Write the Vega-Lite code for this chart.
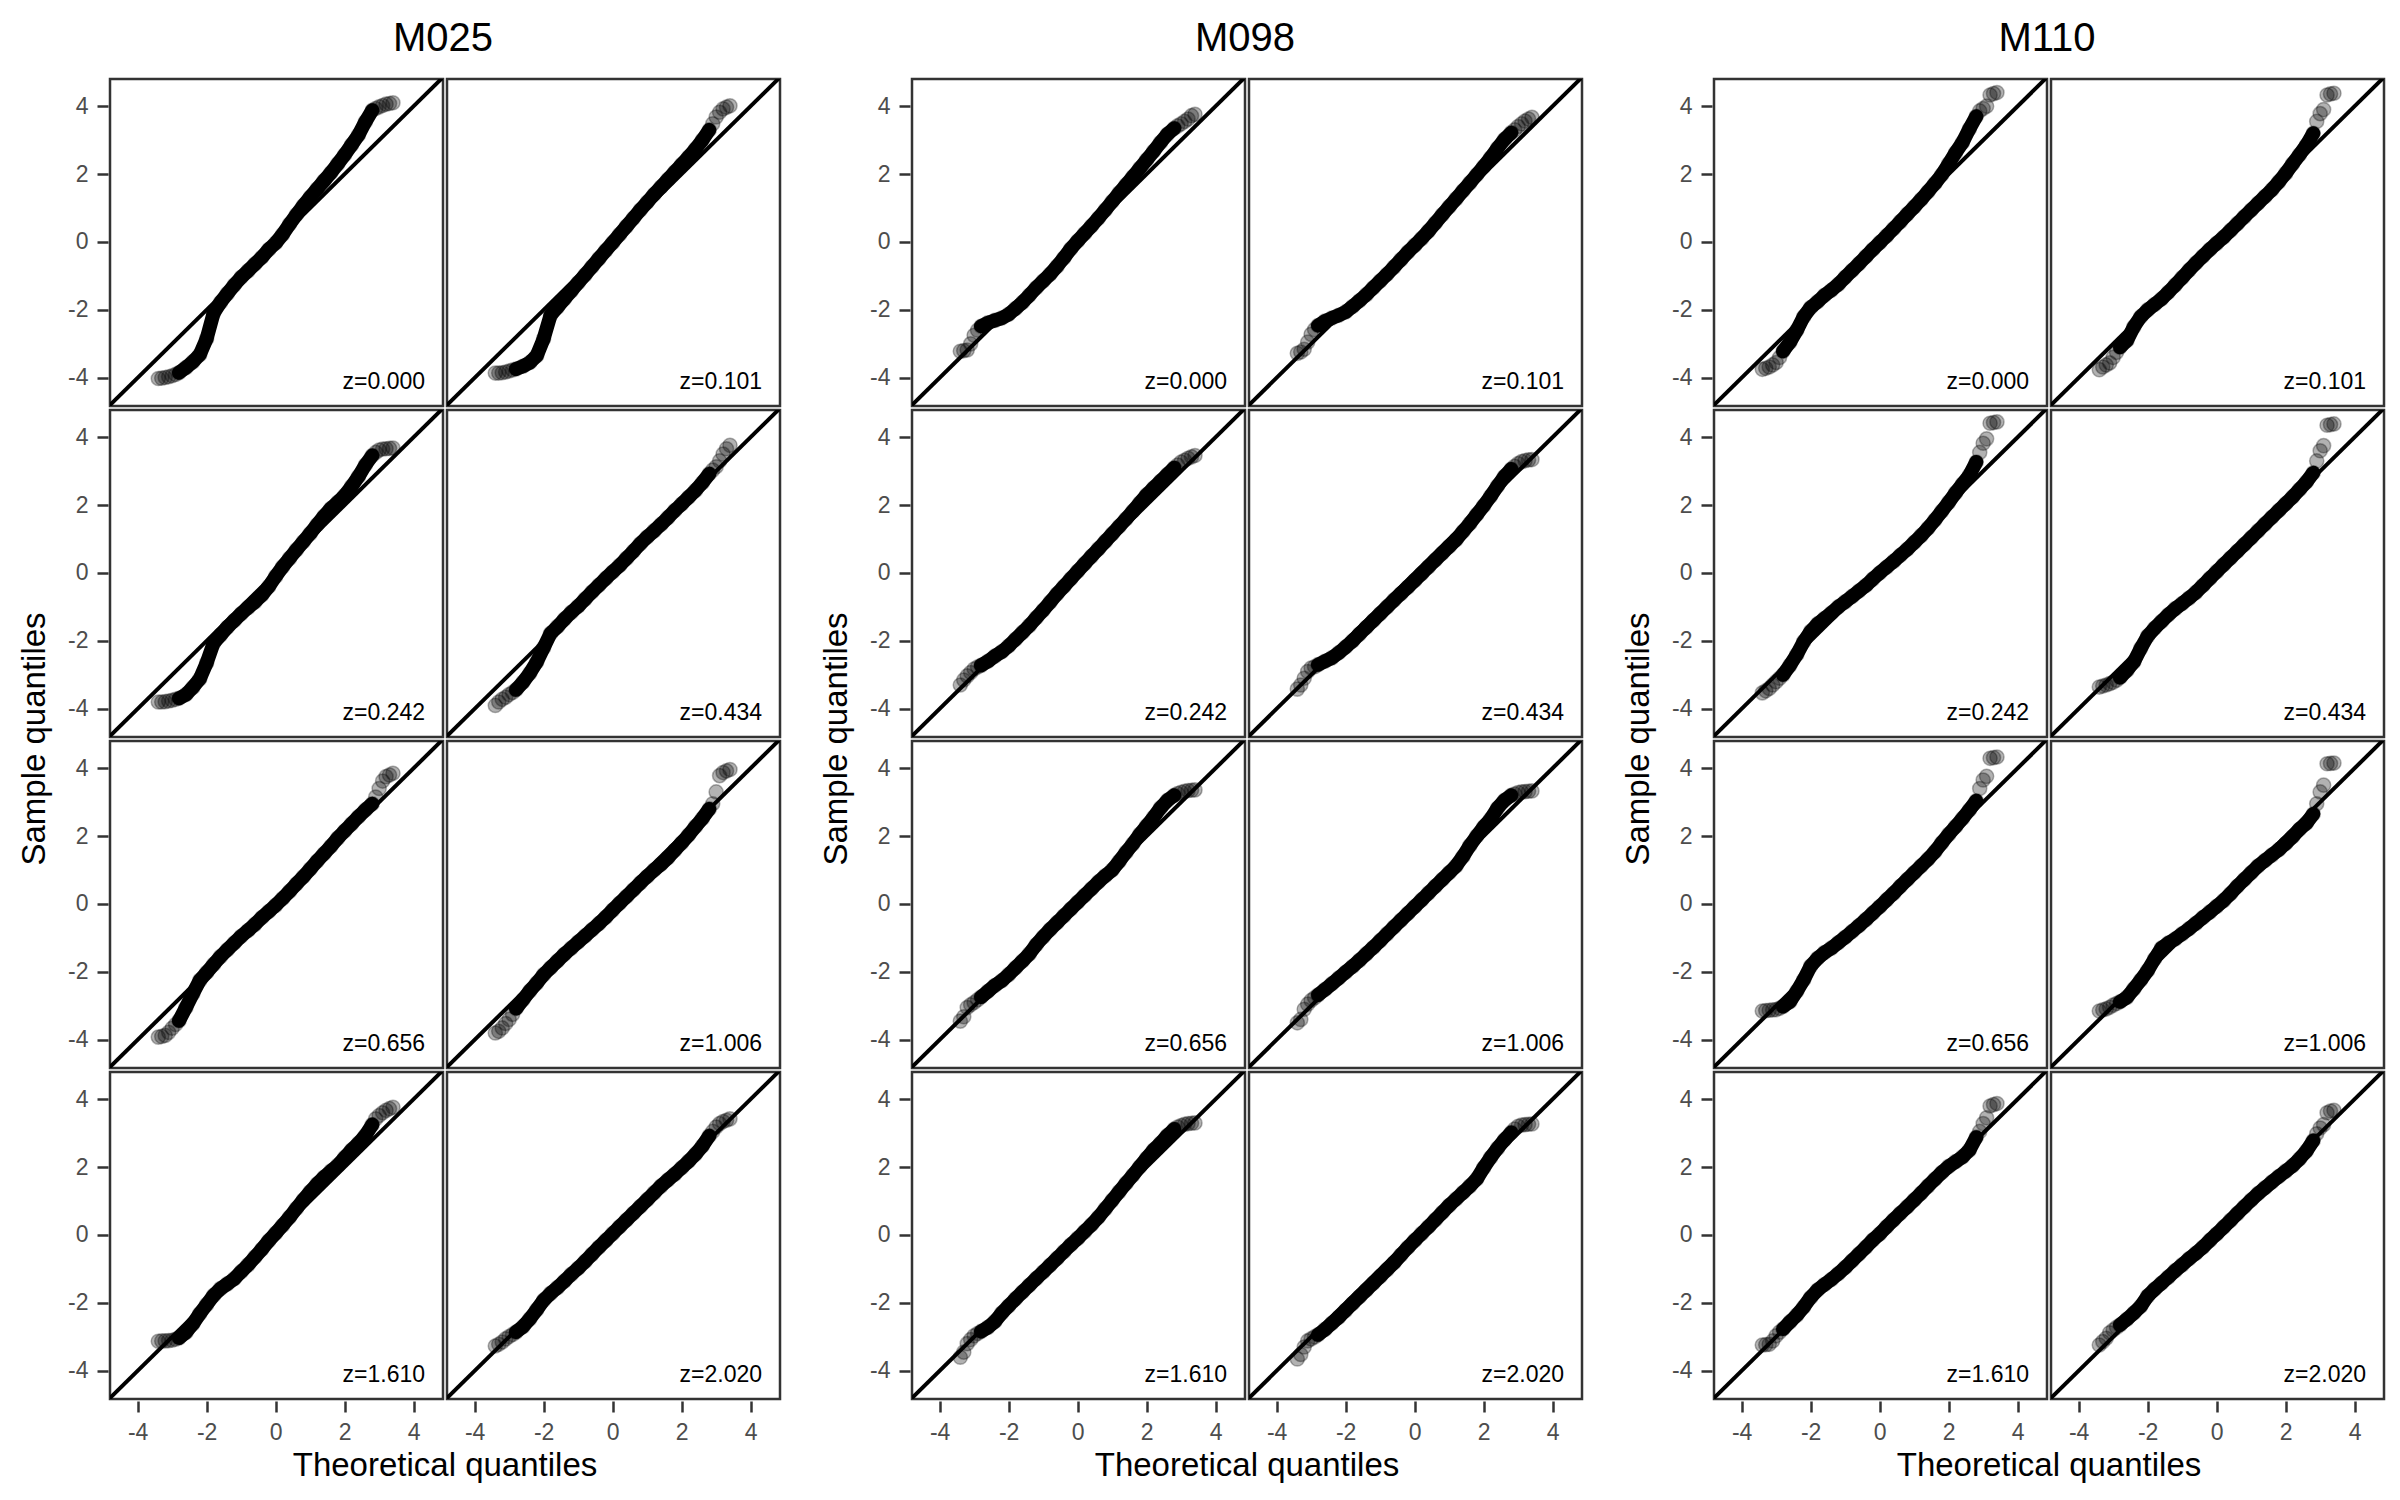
{
"$schema": "https://vega.github.io/schema/vega-lite/v6.json",
"background": "white",
"padding": {"left": 18, "top": 18, "right": 0, "bottom": 0},
"config": {
 "font": "Liberation Sans",
 "view": {"stroke": "#333333", "strokeWidth": 2.5},
 "axis": {"domain": false, "grid": false, "ticks": true, "tickColor": "#333333", "tickWidth": 2.5, "tickSize": 11, "labelFont": "Liberation Sans", "labelFontSize": 23, "labelColor": "#4d4d4d", "labelPadding": 9},
 "header": {"labels": false, "labelPadding": 0, "titleFont": "Liberation Sans", "titleFontSize": 33, "titleFontWeight": "normal", "titleColor": "black"},
 "title": {"font": "Liberation Sans", "fontSize": 40, "fontWeight": "normal", "color": "black"}
},
"datasets": {
 "xs": [{"key":"v0","x":-3.4},{"key":"v1","x":-3.3},{"key":"v2","x":-3.2},{"key":"v3","x":-3.1},{"key":"v4","x":-3.0},{"key":"v5","x":-2.9},{"key":"v6","x":-2.8},{"key":"v7","x":-2.6},{"key":"v8","x":-2.4},{"key":"v9","x":-2.2},{"key":"v10","x":-2.0},{"key":"v11","x":-1.8},{"key":"v12","x":-1.6},{"key":"v13","x":-1.4},{"key":"v14","x":-1.2},{"key":"v15","x":-1.0},{"key":"v16","x":-0.8},{"key":"v17","x":-0.6},{"key":"v18","x":-0.4},{"key":"v19","x":-0.2},{"key":"v20","x":0},{"key":"v21","x":0.2},{"key":"v22","x":0.4},{"key":"v23","x":0.6},{"key":"v24","x":0.8},{"key":"v25","x":1.0},{"key":"v26","x":1.2},{"key":"v27","x":1.4},{"key":"v28","x":1.6},{"key":"v29","x":1.8},{"key":"v30","x":2.0},{"key":"v31","x":2.2},{"key":"v32","x":2.4},{"key":"v33","x":2.6},{"key":"v34","x":2.8},{"key":"v35","x":2.9},{"key":"v36","x":3.0},{"key":"v37","x":3.1},{"key":"v38","x":3.2},{"key":"v39","x":3.3},{"key":"v40","x":3.4}],
 "panels": [
  {"g":"M025","r":1,"c":1,"z":"z=0.000","v0":-4.02,"v1":-4.01,"v2":-3.99,"v3":-3.97,"v4":-3.94,"v5":-3.9,"v6":-3.85,"v7":-3.7,"v8":-3.53,"v9":-3.32,"v10":-2.85,"v11":-2.1,"v12":-1.78,"v13":-1.52,"v14":-1.27,"v15":-1.04,"v16":-0.85,"v17":-0.65,"v18":-0.45,"v19":-0.22,"v20":-0.03,"v21":0.22,"v22":0.52,"v23":0.8,"v24":1.07,"v25":1.32,"v26":1.56,"v27":1.8,"v28":2.04,"v29":2.3,"v30":2.57,"v31":2.86,"v32":3.15,"v33":3.54,"v34":3.88,"v35":3.93,"v36":3.98,"v37":4.02,"v38":4.06,"v39":4.08,"v40":4.1},
  {"g":"M025","r":1,"c":2,"z":"z=0.101","v0":-3.86,"v1":-3.86,"v2":-3.85,"v3":-3.83,"v4":-3.8,"v5":-3.77,"v6":-3.74,"v7":-3.66,"v8":-3.55,"v9":-3.35,"v10":-2.85,"v11":-2.16,"v12":-1.92,"v13":-1.68,"v14":-1.44,"v15":-1.2,"v16":-0.97,"v17":-0.73,"v18":-0.49,"v19":-0.25,"v20":-0.02,"v21":0.22,"v22":0.46,"v23":0.7,"v24":0.94,"v25":1.17,"v26":1.4,"v27":1.62,"v28":1.84,"v29":2.06,"v30":2.28,"v31":2.5,"v32":2.74,"v33":3.0,"v34":3.3,"v35":3.48,"v36":3.68,"v37":3.82,"v38":3.92,"v39":3.97,"v40":4.01},
  {"g":"M025","r":2,"c":1,"z":"z=0.242","v0":-3.8,"v1":-3.8,"v2":-3.79,"v3":-3.77,"v4":-3.75,"v5":-3.72,"v6":-3.69,"v7":-3.58,"v8":-3.37,"v9":-3.12,"v10":-2.65,"v11":-2.07,"v12":-1.83,"v13":-1.6,"v14":-1.4,"v15":-1.2,"v16":-1.02,"v17":-0.85,"v18":-0.65,"v19":-0.4,"v20":-0.1,"v21":0.18,"v22":0.43,"v23":0.68,"v24":0.92,"v25":1.16,"v26":1.42,"v27":1.67,"v28":1.9,"v29":2.08,"v30":2.28,"v31":2.55,"v32":2.84,"v33":3.18,"v34":3.46,"v35":3.55,"v36":3.62,"v37":3.65,"v38":3.66,"v39":3.67,"v40":3.68},
  {"g":"M025","r":2,"c":2,"z":"z=0.434","v0":-3.9,"v1":-3.8,"v2":-3.72,"v3":-3.66,"v4":-3.58,"v5":-3.52,"v6":-3.44,"v7":-3.22,"v8":-2.95,"v9":-2.62,"v10":-2.2,"v11":-1.78,"v12":-1.58,"v13":-1.36,"v14":-1.16,"v15":-0.98,"v16":-0.77,"v17":-0.56,"v18":-0.36,"v19":-0.16,"v20":0.03,"v21":0.22,"v22":0.43,"v23":0.64,"v24":0.86,"v25":1.06,"v26":1.24,"v27":1.43,"v28":1.63,"v29":1.84,"v30":2.03,"v31":2.23,"v32":2.43,"v33":2.66,"v34":2.92,"v35":3.03,"v36":3.13,"v37":3.3,"v38":3.5,"v39":3.66,"v40":3.76},
  {"g":"M025","r":3,"c":1,"z":"z=0.656","v0":-3.92,"v1":-3.9,"v2":-3.87,"v3":-3.78,"v4":-3.66,"v5":-3.55,"v6":-3.44,"v7":-3.05,"v8":-2.64,"v9":-2.25,"v10":-2.02,"v11":-1.78,"v12":-1.55,"v13":-1.35,"v14":-1.15,"v15":-0.95,"v16":-0.78,"v17":-0.6,"v18":-0.4,"v19":-0.22,"v20":-0.04,"v21":0.16,"v22":0.37,"v23":0.59,"v24":0.8,"v25":1.03,"v26":1.26,"v27":1.48,"v28":1.7,"v29":1.94,"v30":2.15,"v31":2.36,"v32":2.57,"v33":2.77,"v34":2.95,"v35":3.15,"v36":3.4,"v37":3.62,"v38":3.75,"v39":3.8,"v40":3.85},
  {"g":"M025","r":3,"c":2,"z":"z=1.006","v0":-3.8,"v1":-3.75,"v2":-3.65,"v3":-3.52,"v4":-3.4,"v5":-3.25,"v6":-3.08,"v7":-2.82,"v8":-2.56,"v9":-2.33,"v10":-2.08,"v11":-1.88,"v12":-1.68,"v13":-1.48,"v14":-1.3,"v15":-1.12,"v16":-0.94,"v17":-0.76,"v18":-0.58,"v19":-0.39,"v20":-0.18,"v21":0.02,"v22":0.22,"v23":0.42,"v24":0.62,"v25":0.81,"v26":1.0,"v27":1.17,"v28":1.36,"v29":1.58,"v30":1.8,"v31":2.03,"v32":2.28,"v33":2.52,"v34":2.8,"v35":2.95,"v36":3.3,"v37":3.78,"v38":3.87,"v39":3.92,"v40":3.96},
  {"g":"M025","r":4,"c":1,"z":"z=1.610","v0":-3.13,"v1":-3.12,"v2":-3.12,"v3":-3.11,"v4":-3.1,"v5":-3.07,"v6":-3.03,"v7":-2.87,"v8":-2.62,"v9":-2.32,"v10":-2.05,"v11":-1.78,"v12":-1.58,"v13":-1.44,"v14":-1.29,"v15":-1.08,"v16":-0.88,"v17":-0.65,"v18":-0.42,"v19":-0.17,"v20":0.05,"v21":0.28,"v22":0.52,"v23":0.78,"v24":1.03,"v25":1.27,"v26":1.5,"v27":1.7,"v28":1.88,"v29":2.05,"v30":2.28,"v31":2.5,"v32":2.7,"v33":2.93,"v34":3.25,"v35":3.42,"v36":3.52,"v37":3.6,"v38":3.67,"v39":3.72,"v40":3.76},
  {"g":"M025","r":4,"c":2,"z":"z=2.020","v0":-3.27,"v1":-3.22,"v2":-3.15,"v3":-3.06,"v4":-2.99,"v5":-2.93,"v6":-2.86,"v7":-2.7,"v8":-2.47,"v9":-2.2,"v10":-1.92,"v11":-1.72,"v12":-1.55,"v13":-1.36,"v14":-1.16,"v15":-0.98,"v16":-0.78,"v17":-0.57,"v18":-0.36,"v19":-0.16,"v20":0.04,"v21":0.24,"v22":0.44,"v23":0.64,"v24":0.84,"v25":1.04,"v26":1.24,"v27":1.44,"v28":1.62,"v29":1.79,"v30":1.98,"v31":2.17,"v32":2.38,"v33":2.62,"v34":2.92,"v35":3.05,"v36":3.18,"v37":3.28,"v38":3.34,"v39":3.38,"v40":3.42},
  {"g":"M098","r":1,"c":1,"z":"z=0.000","v0":-3.22,"v1":-3.2,"v2":-3.18,"v3":-3.0,"v4":-2.75,"v5":-2.6,"v6":-2.48,"v7":-2.38,"v8":-2.31,"v9":-2.24,"v10":-2.13,"v11":-1.96,"v12":-1.78,"v13":-1.57,"v14":-1.35,"v15":-1.15,"v16":-0.95,"v17":-0.72,"v18":-0.47,"v19":-0.2,"v20":0.03,"v21":0.25,"v22":0.47,"v23":0.7,"v24":0.94,"v25":1.19,"v26":1.44,"v27":1.68,"v28":1.92,"v29":2.17,"v30":2.42,"v31":2.67,"v32":2.93,"v33":3.17,"v34":3.35,"v35":3.42,"v36":3.48,"v37":3.55,"v38":3.62,"v39":3.72,"v40":3.76},
  {"g":"M098","r":1,"c":2,"z":"z=0.101","v0":-3.28,"v1":-3.24,"v2":-3.16,"v3":-2.95,"v4":-2.72,"v5":-2.58,"v6":-2.46,"v7":-2.33,"v8":-2.24,"v9":-2.16,"v10":-2.06,"v11":-1.9,"v12":-1.73,"v13":-1.55,"v14":-1.35,"v15":-1.15,"v16":-0.95,"v17":-0.74,"v18":-0.52,"v19":-0.3,"v20":-0.1,"v21":0.1,"v22":0.32,"v23":0.56,"v24":0.8,"v25":1.04,"v26":1.27,"v27":1.51,"v28":1.74,"v29":1.98,"v30":2.22,"v31":2.48,"v32":2.76,"v33":3.02,"v34":3.22,"v35":3.3,"v36":3.4,"v37":3.48,"v38":3.56,"v39":3.62,"v40":3.67},
  {"g":"M098","r":2,"c":1,"z":"z=0.242","v0":-3.3,"v1":-3.15,"v2":-3.03,"v3":-2.93,"v4":-2.83,"v5":-2.77,"v6":-2.72,"v7":-2.6,"v8":-2.45,"v9":-2.32,"v10":-2.15,"v11":-1.95,"v12":-1.75,"v13":-1.55,"v14":-1.32,"v15":-1.1,"v16":-0.86,"v17":-0.62,"v18":-0.4,"v19":-0.17,"v20":0.05,"v21":0.27,"v22":0.49,"v23":0.71,"v24":0.93,"v25":1.15,"v26":1.37,"v27":1.59,"v28":1.82,"v29":2.06,"v30":2.3,"v31":2.5,"v32":2.7,"v33":2.9,"v34":3.1,"v35":3.18,"v36":3.27,"v37":3.32,"v38":3.38,"v39":3.42,"v40":3.46},
  {"g":"M098","r":2,"c":2,"z":"z=0.434","v0":-3.42,"v1":-3.3,"v2":-3.1,"v3":-2.9,"v4":-2.8,"v5":-2.76,"v6":-2.7,"v7":-2.6,"v8":-2.5,"v9":-2.35,"v10":-2.18,"v11":-2.0,"v12":-1.8,"v13":-1.6,"v14":-1.4,"v15":-1.2,"v16":-1.0,"v17":-0.8,"v18":-0.61,"v19":-0.42,"v20":-0.22,"v21":-0.02,"v22":0.18,"v23":0.38,"v24":0.58,"v25":0.78,"v26":0.98,"v27":1.22,"v28":1.46,"v29":1.72,"v30":1.98,"v31":2.26,"v32":2.56,"v33":2.84,"v34":3.06,"v35":3.14,"v36":3.22,"v37":3.28,"v38":3.31,"v39":3.33,"v40":3.34},
  {"g":"M098","r":3,"c":1,"z":"z=0.656","v0":-3.45,"v1":-3.32,"v2":-3.05,"v3":-2.97,"v4":-2.9,"v5":-2.82,"v6":-2.74,"v7":-2.57,"v8":-2.4,"v9":-2.26,"v10":-2.08,"v11":-1.88,"v12":-1.68,"v13":-1.47,"v14":-1.2,"v15":-0.97,"v16":-0.75,"v17":-0.55,"v18":-0.35,"v19":-0.15,"v20":0.05,"v21":0.25,"v22":0.45,"v23":0.65,"v24":0.83,"v25":1.0,"v26":1.25,"v27":1.52,"v28":1.77,"v29":2.05,"v30":2.3,"v31":2.55,"v32":2.83,"v33":3.05,"v34":3.2,"v35":3.25,"v36":3.29,"v37":3.32,"v38":3.34,"v39":3.35,"v40":3.36},
  {"g":"M098","r":3,"c":2,"z":"z=1.006","v0":-3.5,"v1":-3.4,"v2":-3.1,"v3":-2.95,"v4":-2.84,"v5":-2.76,"v6":-2.68,"v7":-2.52,"v8":-2.35,"v9":-2.18,"v10":-2.01,"v11":-1.84,"v12":-1.66,"v13":-1.47,"v14":-1.28,"v15":-1.08,"v16":-0.88,"v17":-0.68,"v18":-0.48,"v19":-0.28,"v20":-0.08,"v21":0.12,"v22":0.32,"v23":0.52,"v24":0.72,"v25":0.92,"v26":1.12,"v27":1.4,"v28":1.72,"v29":2.0,"v30":2.27,"v31":2.5,"v32":2.82,"v33":3.05,"v34":3.2,"v35":3.24,"v36":3.28,"v37":3.3,"v38":3.31,"v39":3.32,"v40":3.33},
  {"g":"M098","r":4,"c":1,"z":"z=1.610","v0":-3.6,"v1":-3.45,"v2":-3.2,"v3":-3.08,"v4":-2.97,"v5":-2.9,"v6":-2.84,"v7":-2.72,"v8":-2.55,"v9":-2.3,"v10":-2.09,"v11":-1.88,"v12":-1.68,"v13":-1.48,"v14":-1.28,"v15":-1.09,"v16":-0.89,"v17":-0.69,"v18":-0.49,"v19":-0.29,"v20":-0.1,"v21":0.1,"v22":0.3,"v23":0.52,"v24":0.77,"v25":1.02,"v26":1.27,"v27":1.52,"v28":1.76,"v29":2.01,"v30":2.26,"v31":2.5,"v32":2.7,"v33":2.93,"v34":3.12,"v35":3.18,"v36":3.22,"v37":3.26,"v38":3.28,"v39":3.29,"v40":3.3},
  {"g":"M098","r":4,"c":2,"z":"z=2.020","v0":-3.65,"v1":-3.52,"v2":-3.3,"v3":-3.12,"v4":-3.06,"v5":-3.0,"v6":-2.94,"v7":-2.78,"v8":-2.6,"v9":-2.42,"v10":-2.22,"v11":-2.02,"v12":-1.82,"v13":-1.62,"v14":-1.42,"v15":-1.22,"v16":-1.02,"v17":-0.82,"v18":-0.59,"v19":-0.37,"v20":-0.16,"v21":0.04,"v22":0.24,"v23":0.45,"v24":0.66,"v25":0.87,"v26":1.06,"v27":1.25,"v28":1.44,"v29":1.65,"v30":1.98,"v31":2.28,"v32":2.55,"v33":2.8,"v34":3.02,"v35":3.12,"v36":3.2,"v37":3.24,"v38":3.25,"v39":3.26,"v40":3.27},
  {"g":"M110","r":1,"c":1,"z":"z=0.000","v0":-3.75,"v1":-3.72,"v2":-3.68,"v3":-3.62,"v4":-3.55,"v5":-3.4,"v6":-3.22,"v7":-2.95,"v8":-2.6,"v9":-2.2,"v10":-1.93,"v11":-1.76,"v12":-1.57,"v13":-1.42,"v14":-1.25,"v15":-1.04,"v16":-0.84,"v17":-0.64,"v18":-0.43,"v19":-0.22,"v20":-0.02,"v21":0.18,"v22":0.39,"v23":0.6,"v24":0.82,"v25":1.03,"v26":1.25,"v27":1.48,"v28":1.72,"v29":1.98,"v30":2.3,"v31":2.63,"v32":2.93,"v33":3.33,"v34":3.7,"v35":3.86,"v36":3.93,"v37":4.0,"v38":4.33,"v39":4.37,"v40":4.4},
  {"g":"M110","r":1,"c":2,"z":"z=0.101","v0":-3.76,"v1":-3.68,"v2":-3.62,"v3":-3.56,"v4":-3.4,"v5":-3.25,"v6":-3.1,"v7":-2.9,"v8":-2.5,"v9":-2.2,"v10":-2.0,"v11":-1.84,"v12":-1.68,"v13":-1.48,"v14":-1.27,"v15":-1.05,"v16":-0.83,"v17":-0.62,"v18":-0.42,"v19":-0.22,"v20":-0.04,"v21":0.14,"v22":0.34,"v23":0.54,"v24":0.74,"v25":0.94,"v26":1.14,"v27":1.34,"v28":1.54,"v29":1.77,"v30":2.02,"v31":2.3,"v32":2.57,"v33":2.85,"v34":3.2,"v35":3.55,"v36":3.78,"v37":3.9,"v38":4.33,"v39":4.36,"v40":4.38},
  {"g":"M110","r":2,"c":1,"z":"z=0.242","v0":-3.53,"v1":-3.47,"v2":-3.4,"v3":-3.3,"v4":-3.2,"v5":-3.1,"v6":-3.0,"v7":-2.72,"v8":-2.4,"v9":-2.02,"v10":-1.72,"v11":-1.5,"v12":-1.34,"v13":-1.18,"v14":-1.0,"v15":-0.85,"v16":-0.69,"v17":-0.53,"v18":-0.37,"v19":-0.18,"v20":0.0,"v21":0.17,"v22":0.34,"v23":0.52,"v24":0.7,"v25":0.9,"v26":1.1,"v27":1.32,"v28":1.56,"v29":1.82,"v30":2.08,"v31":2.36,"v32":2.62,"v33":2.88,"v34":3.27,"v35":3.55,"v36":3.82,"v37":3.95,"v38":4.41,"v39":4.43,"v40":4.45},
  {"g":"M110","r":2,"c":2,"z":"z=0.434","v0":-3.36,"v1":-3.33,"v2":-3.3,"v3":-3.26,"v4":-3.22,"v5":-3.16,"v6":-3.08,"v7":-2.87,"v8":-2.62,"v9":-2.22,"v10":-1.86,"v11":-1.63,"v12":-1.43,"v13":-1.23,"v14":-1.05,"v15":-0.9,"v16":-0.74,"v17":-0.57,"v18":-0.37,"v19":-0.16,"v20":0.04,"v21":0.24,"v22":0.44,"v23":0.64,"v24":0.84,"v25":1.04,"v26":1.24,"v27":1.44,"v28":1.64,"v29":1.84,"v30":2.04,"v31":2.24,"v32":2.46,"v33":2.68,"v34":2.95,"v35":3.3,"v36":3.6,"v37":3.75,"v38":4.35,"v39":4.37,"v40":4.39},
  {"g":"M110","r":3,"c":1,"z":"z=0.656","v0":-3.15,"v1":-3.14,"v2":-3.13,"v3":-3.12,"v4":-3.11,"v5":-3.07,"v6":-3.02,"v7":-2.88,"v8":-2.57,"v9":-2.23,"v10":-1.83,"v11":-1.6,"v12":-1.43,"v13":-1.3,"v14":-1.14,"v15":-0.98,"v16":-0.81,"v17":-0.64,"v18":-0.46,"v19":-0.27,"v20":-0.08,"v21":0.12,"v22":0.31,"v23":0.52,"v24":0.72,"v25":0.92,"v26":1.12,"v27":1.32,"v28":1.54,"v29":1.8,"v30":2.05,"v31":2.28,"v32":2.52,"v33":2.77,"v34":3.04,"v35":3.4,"v36":3.65,"v37":3.76,"v38":4.29,"v39":4.31,"v40":4.33},
  {"g":"M110","r":3,"c":2,"z":"z=1.006","v0":-3.15,"v1":-3.12,"v2":-3.09,"v3":-3.04,"v4":-2.98,"v5":-2.93,"v6":-2.88,"v7":-2.75,"v8":-2.5,"v9":-2.24,"v10":-1.96,"v11":-1.62,"v12":-1.3,"v13":-1.15,"v14":-1.03,"v15":-0.88,"v16":-0.73,"v17":-0.57,"v18":-0.4,"v19":-0.24,"v20":-0.07,"v21":0.1,"v22":0.3,"v23":0.52,"v24":0.72,"v25":0.92,"v26":1.12,"v27":1.28,"v28":1.44,"v29":1.6,"v30":1.78,"v31":1.98,"v32":2.2,"v33":2.38,"v34":2.65,"v35":2.95,"v36":3.3,"v37":3.5,"v38":4.13,"v39":4.14,"v40":4.15},
  {"g":"M110","r":4,"c":1,"z":"z=1.610","v0":-3.24,"v1":-3.23,"v2":-3.22,"v3":-3.12,"v4":-2.97,"v5":-2.86,"v6":-2.77,"v7":-2.56,"v8":-2.36,"v9":-2.12,"v10":-1.84,"v11":-1.62,"v12":-1.46,"v13":-1.31,"v14":-1.14,"v15":-0.96,"v16":-0.76,"v17":-0.56,"v18":-0.36,"v19":-0.15,"v20":0.03,"v21":0.24,"v22":0.44,"v23":0.64,"v24":0.83,"v25":1.03,"v26":1.23,"v27":1.44,"v28":1.64,"v29":1.84,"v30":2.02,"v31":2.16,"v32":2.3,"v33":2.5,"v34":2.88,"v35":3.05,"v36":3.28,"v37":3.45,"v38":3.8,"v39":3.84,"v40":3.87},
  {"g":"M110","r":4,"c":2,"z":"z=2.020","v0":-3.24,"v1":-3.14,"v2":-3.04,"v3":-2.88,"v4":-2.8,"v5":-2.72,"v6":-2.65,"v7":-2.48,"v8":-2.3,"v9":-2.1,"v10":-1.8,"v11":-1.6,"v12":-1.42,"v13":-1.24,"v14":-1.05,"v15":-0.88,"v16":-0.7,"v17":-0.54,"v18":-0.36,"v19":-0.16,"v20":0.03,"v21":0.23,"v22":0.43,"v23":0.63,"v24":0.83,"v25":1.03,"v26":1.22,"v27":1.39,"v28":1.56,"v29":1.72,"v30":1.88,"v31":2.04,"v32":2.24,"v33":2.47,"v34":2.78,"v35":2.98,"v36":3.15,"v37":3.25,"v38":3.6,"v39":3.65,"v40":3.67}
 ]
},
"data": {"name": "panels"},
"transform": [
 {"fold": ["v0","v1","v2","v3","v4","v5","v6","v7","v8","v9","v10","v11","v12","v13","v14","v15","v16","v17","v18","v19","v20","v21","v22","v23","v24","v25","v26","v27","v28","v29","v30","v31","v32","v33","v34","v35","v36","v37","v38","v39","v40"], "as": ["key","y"]},
 {"lookup": "key", "from": {"data": {"name": "xs"}, "key": "key", "fields": ["x"]}}
],
"spacing": 38,
"hconcat": [
 {
  "transform": [{"filter": {"field": "g", "equal": "M025"}}],
  "title": {"text": "M025", "anchor": "middle", "frame": "group", "dx": 333, "offset": 19},
  "facet": {
   "row": {"field": "r", "type": "ordinal", "title": "Sample quantiles", "header": {"labels": false, "titlePadding": 5}},
   "column": {"field": "c", "type": "ordinal", "title": "Theoretical quantiles", "header": {"labels": false, "titleOrient": "bottom", "titlePadding": -4}}
  },
  "spacing": {"row": 0, "column": 0},
  "spec": {
   "width": 333, "height": 327,
   "encoding": {
    "x": {"field": "x", "type": "quantitative", "scale": {"domain": [-4.8, 4.85], "nice": false, "zero": false}, "axis": {"title": null, "values": [-4,-2,0,2,4], "labelExpr": "datum.value + ''"}},
    "y": {"field": "y", "type": "quantitative", "scale": {"domain": [-4.83, 4.8], "nice": false, "zero": false}, "axis": {"title": null, "values": [-4,-2,0,2,4], "labelExpr": "datum.value + ''"}}
   },
   "layer": [
    {"transform": [{"filter": {"field": "x", "range": [-2.8, 2.8]}}], "mark": {"type": "line", "color": "black", "strokeWidth": 14, "strokeCap": "round", "strokeJoin": "round", "opacity": 1, "clip": true}},
    {"mark": {"type": "point", "shape": "circle", "filled": true, "fill": "black", "fillOpacity": 0.3, "stroke": "black", "strokeOpacity": 0.3, "strokeWidth": 1.5, "size": 200, "opacity": 1, "clip": true}},
    {"transform": [{"filter": {"field": "key", "equal": "v20"}}], "mark": {"type": "rule", "color": "black", "strokeWidth": 4, "clip": true}, "encoding": {"x": {"datum": -4.9}, "y": {"datum": -4.9}, "x2": {"datum": 4.9}, "y2": {"datum": 4.9}}},
    {"transform": [{"filter": {"field": "key", "equal": "v20"}}], "mark": {"type": "text", "align": "right", "baseline": "alphabetic", "fontSize": 23, "font": "Liberation Sans", "color": "black"}, "encoding": {"x": {"datum": 4.33}, "y": {"datum": -4.32}, "text": {"field": "z"}}}
   ]
  }
 },
 {
  "transform": [{"filter": {"field": "g", "equal": "M098"}}],
  "title": {"text": "M098", "anchor": "middle", "frame": "group", "dx": 333, "offset": 19},
  "facet": {
   "row": {"field": "r", "type": "ordinal", "title": "Sample quantiles", "header": {"labels": false, "titlePadding": 5}},
   "column": {"field": "c", "type": "ordinal", "title": "Theoretical quantiles", "header": {"labels": false, "titleOrient": "bottom", "titlePadding": -4}}
  },
  "spacing": {"row": 0, "column": 0},
  "spec": {
   "width": 333, "height": 327,
   "encoding": {
    "x": {"field": "x", "type": "quantitative", "scale": {"domain": [-4.8, 4.85], "nice": false, "zero": false}, "axis": {"title": null, "values": [-4,-2,0,2,4], "labelExpr": "datum.value + ''"}},
    "y": {"field": "y", "type": "quantitative", "scale": {"domain": [-4.83, 4.8], "nice": false, "zero": false}, "axis": {"title": null, "values": [-4,-2,0,2,4], "labelExpr": "datum.value + ''"}}
   },
   "layer": [
    {"transform": [{"filter": {"field": "x", "range": [-2.8, 2.8]}}], "mark": {"type": "line", "color": "black", "strokeWidth": 14, "strokeCap": "round", "strokeJoin": "round", "opacity": 1, "clip": true}},
    {"mark": {"type": "point", "shape": "circle", "filled": true, "fill": "black", "fillOpacity": 0.3, "stroke": "black", "strokeOpacity": 0.3, "strokeWidth": 1.5, "size": 200, "opacity": 1, "clip": true}},
    {"transform": [{"filter": {"field": "key", "equal": "v20"}}], "mark": {"type": "rule", "color": "black", "strokeWidth": 4, "clip": true}, "encoding": {"x": {"datum": -4.9}, "y": {"datum": -4.9}, "x2": {"datum": 4.9}, "y2": {"datum": 4.9}}},
    {"transform": [{"filter": {"field": "key", "equal": "v20"}}], "mark": {"type": "text", "align": "right", "baseline": "alphabetic", "fontSize": 23, "font": "Liberation Sans", "color": "black"}, "encoding": {"x": {"datum": 4.33}, "y": {"datum": -4.32}, "text": {"field": "z"}}}
   ]
  }
 },
 {
  "transform": [{"filter": {"field": "g", "equal": "M110"}}],
  "title": {"text": "M110", "anchor": "middle", "frame": "group", "dx": 333, "offset": 19},
  "facet": {
   "row": {"field": "r", "type": "ordinal", "title": "Sample quantiles", "header": {"labels": false, "titlePadding": 5}},
   "column": {"field": "c", "type": "ordinal", "title": "Theoretical quantiles", "header": {"labels": false, "titleOrient": "bottom", "titlePadding": -4}}
  },
  "spacing": {"row": 0, "column": 0},
  "spec": {
   "width": 333, "height": 327,
   "encoding": {
    "x": {"field": "x", "type": "quantitative", "scale": {"domain": [-4.8, 4.85], "nice": false, "zero": false}, "axis": {"title": null, "values": [-4,-2,0,2,4], "labelExpr": "datum.value + ''"}},
    "y": {"field": "y", "type": "quantitative", "scale": {"domain": [-4.83, 4.8], "nice": false, "zero": false}, "axis": {"title": null, "values": [-4,-2,0,2,4], "labelExpr": "datum.value + ''"}}
   },
   "layer": [
    {"transform": [{"filter": {"field": "x", "range": [-2.8, 2.8]}}], "mark": {"type": "line", "color": "black", "strokeWidth": 14, "strokeCap": "round", "strokeJoin": "round", "opacity": 1, "clip": true}},
    {"mark": {"type": "point", "shape": "circle", "filled": true, "fill": "black", "fillOpacity": 0.3, "stroke": "black", "strokeOpacity": 0.3, "strokeWidth": 1.5, "size": 200, "opacity": 1, "clip": true}},
    {"transform": [{"filter": {"field": "key", "equal": "v20"}}], "mark": {"type": "rule", "color": "black", "strokeWidth": 4, "clip": true}, "encoding": {"x": {"datum": -4.9}, "y": {"datum": -4.9}, "x2": {"datum": 4.9}, "y2": {"datum": 4.9}}},
    {"transform": [{"filter": {"field": "key", "equal": "v20"}}], "mark": {"type": "text", "align": "right", "baseline": "alphabetic", "fontSize": 23, "font": "Liberation Sans", "color": "black"}, "encoding": {"x": {"datum": 4.33}, "y": {"datum": -4.32}, "text": {"field": "z"}}}
   ]
  }
 }
]
}
